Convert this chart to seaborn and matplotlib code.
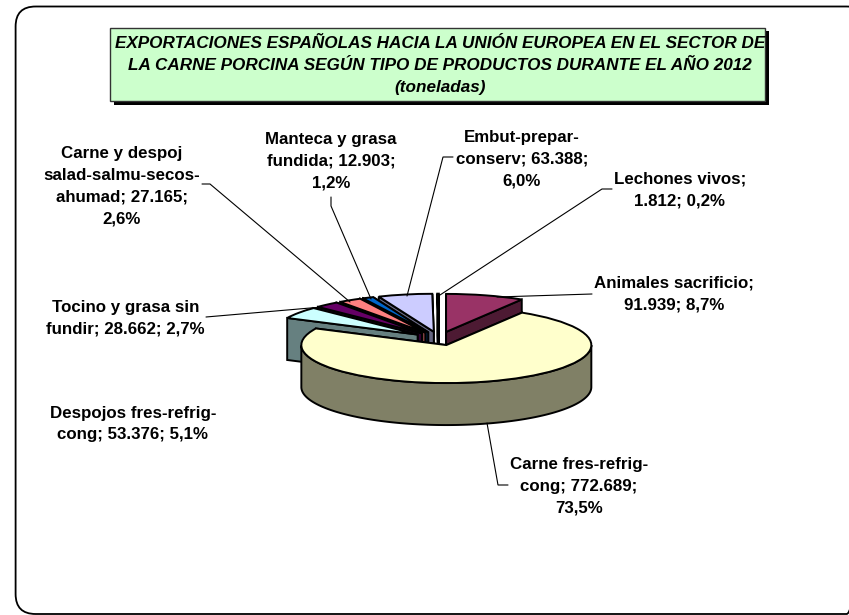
import numpy as np
import matplotlib
matplotlib.use("Agg")
import matplotlib.pyplot as plt
from matplotlib.patches import FancyBboxPatch, Polygon, Rectangle
import seaborn as sns

# Data
values = [91939, 772689, 53376, 28662, 27165, 12903, 63388, 1812]
labels = [
    "Animales sacrificio;\n91.939; 8,7%",
    "Carne fres-refrig-\ncong; 772.689;\n73,5%",
    "Despojos fres-refrig-\ncong; 53.376; 5,1%",
    "Tocino y grasa sin\nfundir; 28.662; 2,7%",
    "Carne y despoj\nsalad-salmu-secos-\nahumad; 27.165;\n2,6%",
    "Manteca y grasa\nfundida; 12.903;\n1,2%",
    "Embut-prepar-\nconserv; 63.388;\n6,0%",
    "Lechones vivos;\n1.812; 0,2%",
]
colors = ["#993366", "#FFFFCC", "#CCFFFF", "#660066",
          "#FF8080", "#0066CC", "#CCCCFF", "#000080"]
title_text = ("EXPORTACIONES ESPAÑOLAS HACIA LA UNIÓN EUROPEA EN EL SECTOR DE\n"
              "LA CARNE PORCINA SEGÚN TIPO DE PRODUCTOS DURANTE EL AÑO 2012\n"
              "(toneladas)")

# Layout, in pixels of the 849x615 picture
W, H = 849, 615
CX, CY = 439, 338.5
RX, RY = 145, 38
DEPTH = 42
label_pos = [(674, 294), (579, 486.5), (133, 424), (125.5, 318),
             (122, 186), (331, 161), (522, 159.5), (680, 190)]
leaders = [
    [(592, 294), (497, 297)],
    [(508, 485), (498, 485), (487, 423)],
    [(206, 317), (322, 307)],
    [(202, 184), (210, 184), (350, 302)],
    [(331, 197), (331, 206), (371, 299)],
    [(453, 157), (443, 157), (407, 296)],
    [(612, 189), (602, 189), (440, 295)],
]
# back slices first, the big one last
draw_order = [7, 6, 5, 4, 3, 2, 0, 1]

sns.set_theme(style="white")
plt.rcParams["font.family"] = ["Liberation Sans", "DejaVu Sans"]
palette = sns.color_palette(colors)

fig = plt.figure(figsize=(W / 100, H / 100), dpi=100, facecolor="white")

# Pie axes: one unit is RX pixels across and RY pixels up, so circles go flat
pie_ax = fig.add_axes([0, 0, 1, 1], zorder=1)
wedges, _ = pie_ax.pie(
    values,
    colors=palette,
    explode=[0.18] * len(values),
    startangle=90,
    counterclock=False,
    radius=1,
    wedgeprops={"edgecolor": "black", "linewidth": 1.4},
)
pie_ax.set_aspect("auto")
pie_ax.set_xlim(-CX / RX, (W - CX) / RX)
pie_ax.set_ylim((CY - H) / RY, CY / RY)
pie_ax.axis("off")

drop = DEPTH / RY
for rank, i in enumerate(draw_order):
    w = wedges[i]
    w.set_zorder(3 * rank + 2)
    shade = tuple(c * 0.5 for c in palette[i])
    cx, cy = w.center
    t = np.radians(np.linspace(w.theta1, w.theta2, 240))
    arc_x = cx + np.cos(t)
    arc_y = cy + np.sin(t)
    # the two cut faces
    for k in (0, -1):
        face = [[cx, cy], [arc_x[k], arc_y[k]], [arc_x[k], arc_y[k] - drop], [cx, cy - drop]]
        pie_ax.add_patch(Polygon(face, closed=True, facecolor=shade, edgecolor="black",
                                 linewidth=1.4, zorder=3 * rank))
    # outer wall, only the part that faces the viewer
    front = np.sin(t) < 0
    if front.any():
        fx, fy = arc_x[front], arc_y[front]
        wall = np.column_stack([np.r_[fx, fx[::-1]], np.r_[fy, fy[::-1] - drop]])
        pie_ax.add_patch(Polygon(wall, closed=True, facecolor=shade, edgecolor="black",
                                 linewidth=1.4, zorder=3 * rank + 1))

# Overlay in picture pixels for the frame, title box, labels and leader lines
ax = fig.add_axes([0, 0, 1, 1], zorder=2)
ax.set_xlim(0, W)
ax.set_ylim(H, 0)
ax.axis("off")

# right edge of the frame falls outside the picture
ax.add_patch(FancyBboxPatch((15.6, 6.5), 851, 607.5,
                            boxstyle="round,pad=0,rounding_size=20",
                            facecolor="none", edgecolor="black", linewidth=1.3))

ax.add_patch(Rectangle((114, 31), 655, 74, facecolor="black", edgecolor="none"))
ax.add_patch(Rectangle((110.5, 27.5), 654.5, 73, facecolor="#CCFFCC",
                       edgecolor="#333333", linewidth=1))
ax.text(440, 65.5, title_text, ha="center", va="center", fontsize=12.3,
        fontweight="bold", fontstyle="italic", color="black", linespacing=1.55)

for pts in leaders:
    xs, ys = zip(*pts)
    ax.plot(xs, ys, color="black", linewidth=0.8, solid_joinstyle="miter")

for text, (x, y) in zip(labels, label_pos):
    ax.text(x, y, text, ha="center", va="center", fontsize=12.2,
            fontweight="bold", color="black", linespacing=1.58)

fig.savefig("out.png", dpi=100)
plt.close(fig)
